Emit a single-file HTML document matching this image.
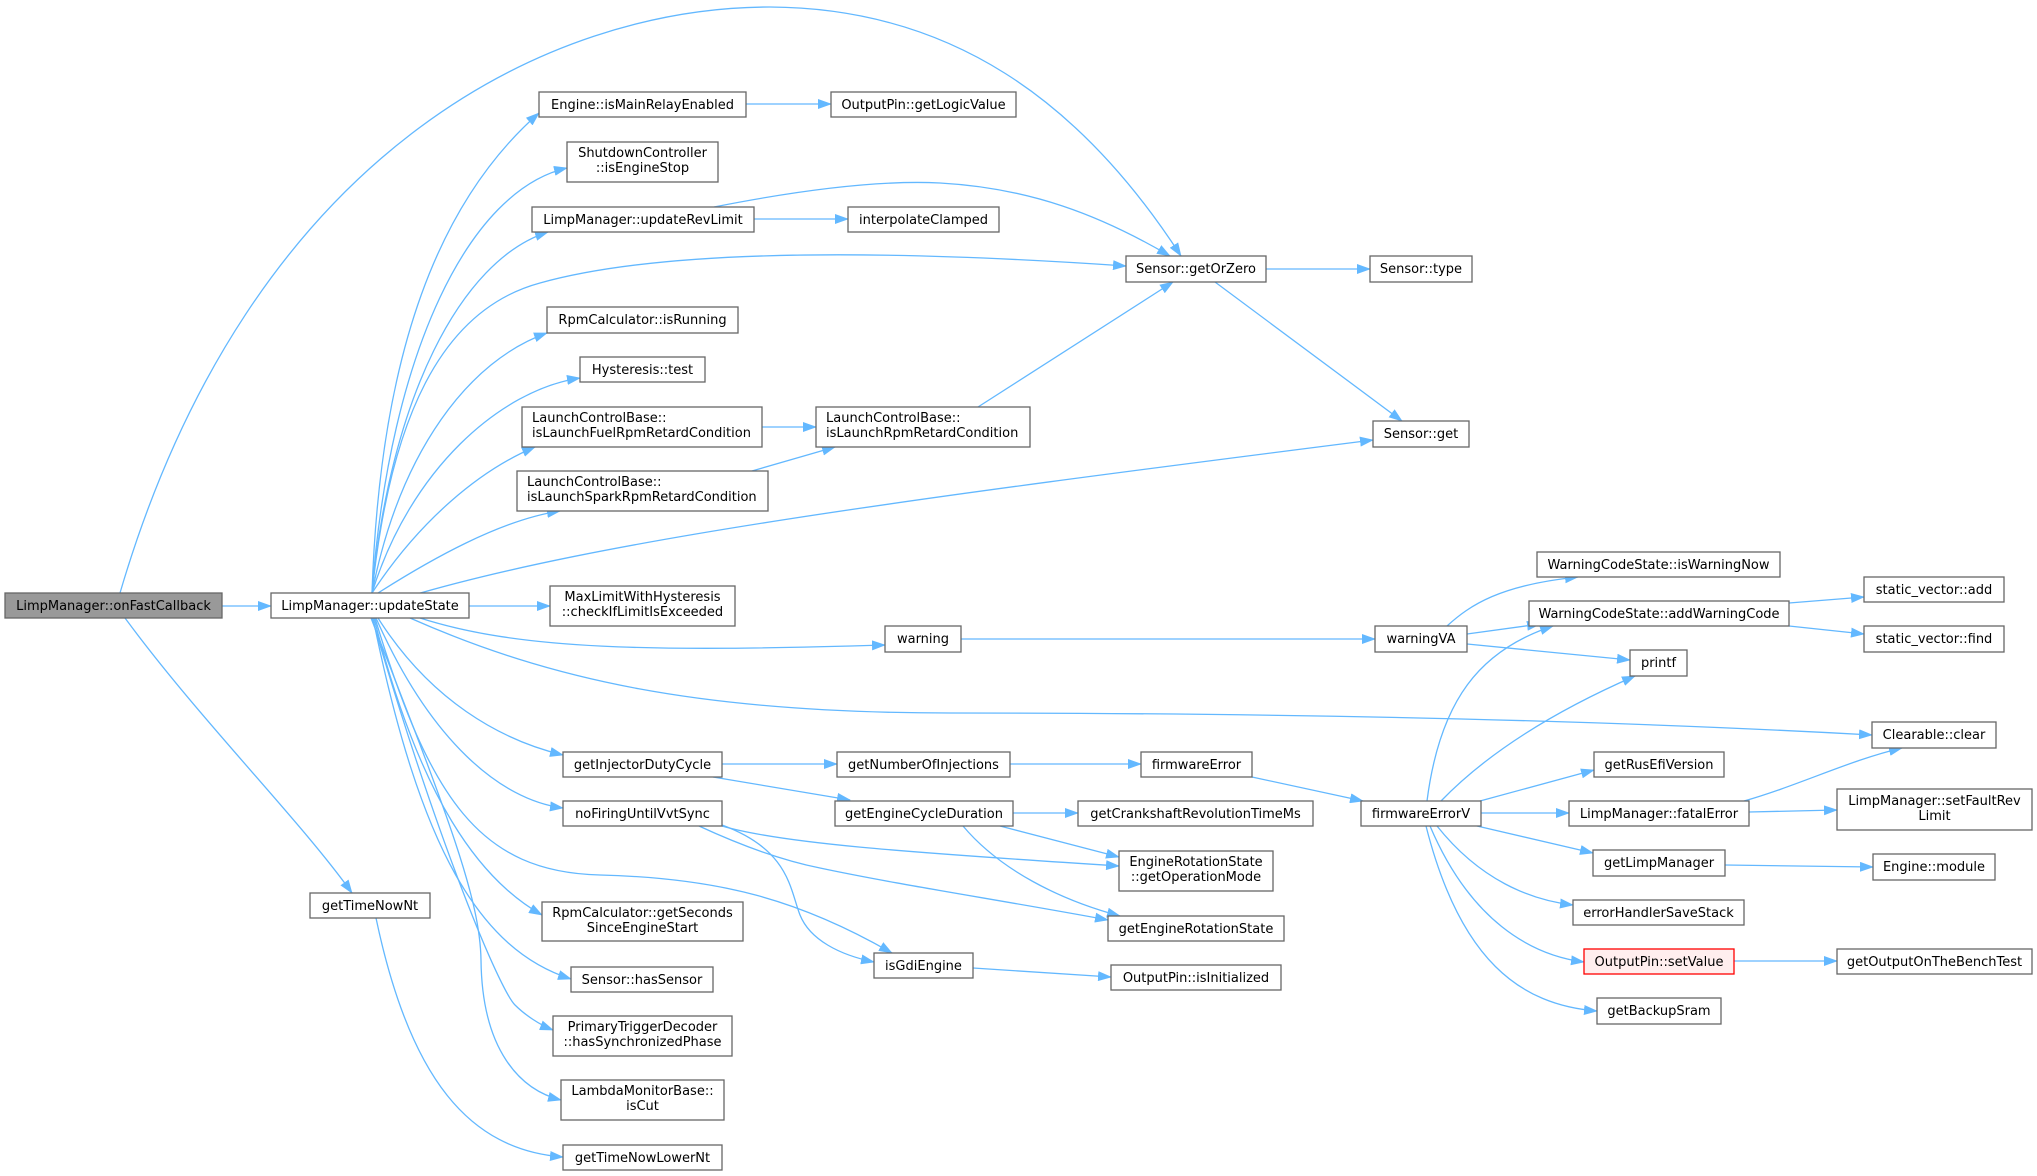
<!DOCTYPE html>
<html><head><meta charset="utf-8"><style>
html,body{margin:0;padding:0;background:#fff;}
svg{display:block;}
text{font-family:"DejaVu Sans","Liberation Sans",sans-serif;font-size:13px;fill:#000;}
.e{fill:none;stroke:#63b8ff;stroke-width:1.3;}
.n{fill:#fff;stroke:#666;stroke-width:1.3;}
</style></head><body>
<svg width="2037" height="1176" viewBox="0 0 2037 1176" xmlns="http://www.w3.org/2000/svg">
<defs><marker id="a" markerWidth="14" markerHeight="10" refX="13" refY="5" orient="auto" markerUnits="userSpaceOnUse"><path d="M0,0 L14,5 L0,10 z" fill="#63b8ff"/></marker></defs>
<g class="e" marker-end="url(#a)">
<path d="M222,606 L271,606"/>
<path d="M120,593 C250,150 550,7 770,7 C950,8 1080,100 1181,256"/>
<path d="M125,618 C200,720 300,820 352,893"/>
<path d="M376,918 C410,1080 470,1150 563,1157"/>
<path d="M372,593 C380,350 440,200 539,113"/>
<path d="M372,593 C390,350 470,190 567,168"/>
<path d="M372,593 C390,400 460,260 548,232"/>
<path d="M372,593 C390,420 440,310 540,283 C640,255 820,245 1126,266"/>
<path d="M372,593 C400,450 470,360 547,333"/>
<path d="M372,593 C410,470 500,390 580,378"/>
<path d="M372,593 C420,520 480,470 535,447"/>
<path d="M378,593 C430,560 500,520 560,511"/>
<path d="M410,596 C600,540 900,500 1373,440"/>
<path d="M469,606 L550,606"/>
<path d="M420,618 C520,650 650,652 885,645"/>
<path d="M410,618 C550,680 700,713 950,713 C1300,713 1600,720 1872,735"/>
<path d="M378,618 C430,700 500,740 563,755"/>
<path d="M376,618 C430,740 500,800 563,808"/>
<path d="M375,618 C430,800 480,872 600,875 C720,878 800,900 892,953"/>
<path d="M374,618 C420,800 480,880 542,915"/>
<path d="M373,618 C420,850 480,950 571,979"/>
<path d="M372,618 C440,850 500,990 515,1005 C525,1015 540,1025 553,1030"/>
<path d="M371,618 C450,820 480,900 481,960 C482,1050 520,1090 561,1100"/>
<path d="M746,104 L831,104"/>
<path d="M754,219 L848,219"/>
<path d="M714,207 C800,190 880,180 940,183 C1030,188 1100,215 1170,256"/>
<path d="M1266,269 L1370,269"/>
<path d="M1215,282 L1402,421"/>
<path d="M762,427 L816,427"/>
<path d="M752,471 L835,447"/>
<path d="M978,407 L1173,282"/>
<path d="M961,639 L1375,639"/>
<path d="M1447,626 C1470,605 1500,585 1578,577"/>
<path d="M1467,634 L1540,624"/>
<path d="M1467,644 L1630,660"/>
<path d="M1789,603 L1864,597"/>
<path d="M1789,626 L1864,634"/>
<path d="M722,764 L837,764"/>
<path d="M713,777 L850,800"/>
<path d="M1010,764 L1141,764"/>
<path d="M1252,777 L1363,801"/>
<path d="M1013,813 L1078,813"/>
<path d="M1000,826 L1119,857"/>
<path d="M963,826 C1000,870 1060,900 1120,916"/>
<path d="M722,826 C780,843 900,852 1119,866"/>
<path d="M699,826 C740,845 780,860 820,868 C900,885 1000,900 1108,920"/>
<path d="M722,825 C790,850 790,890 800,915 C810,940 840,955 874,962"/>
<path d="M973,968 L1111,977"/>
<path d="M1427,801 C1440,700 1480,650 1553,626"/>
<path d="M1441,801 C1500,740 1580,700 1635,676"/>
<path d="M1480,801 L1594,770"/>
<path d="M1481,813 L1569,813"/>
<path d="M1477,826 L1593,853"/>
<path d="M1437,826 C1480,880 1530,900 1573,905"/>
<path d="M1430,826 C1470,920 1530,955 1584,962"/>
<path d="M1426,826 C1460,960 1520,1005 1597,1011"/>
<path d="M1744,801 C1800,785 1850,760 1902,748"/>
<path d="M1749,812 L1837,810"/>
<path d="M1725,865 L1873,867"/>
<path d="M1734,961 L1837,961"/>
</g>
<g>
<rect x="5" y="593" width="217" height="25" fill="#999" stroke="#666" stroke-width="1.3"/><text x="113.5" y="610" text-anchor="middle">LimpManager::onFastCallback</text>
<rect class="n" x="271" y="593" width="198" height="25"/><text x="370" y="610" text-anchor="middle">LimpManager::updateState</text>
<rect class="n" x="539" y="92" width="207" height="25"/><text x="642.5" y="109" text-anchor="middle">Engine::isMainRelayEnabled</text>
<rect class="n" x="831" y="92" width="185" height="25"/><text x="923.5" y="109" text-anchor="middle">OutputPin::getLogicValue</text>
<rect class="n" x="567" y="142" width="151" height="40"/><text x="642.5" y="157" text-anchor="middle">ShutdownController</text><text x="642.5" y="172" text-anchor="middle">::isEngineStop</text>
<rect class="n" x="532" y="207" width="222" height="25"/><text x="643" y="224" text-anchor="middle">LimpManager::updateRevLimit</text>
<rect class="n" x="848" y="207" width="151" height="25"/><text x="923.5" y="224" text-anchor="middle">interpolateClamped</text>
<rect class="n" x="1126" y="256" width="140" height="26"/><text x="1196" y="273" text-anchor="middle">Sensor::getOrZero</text>
<rect class="n" x="1370" y="256" width="102" height="26"/><text x="1421" y="273" text-anchor="middle">Sensor::type</text>
<rect class="n" x="547" y="307" width="191" height="26"/><text x="642.5" y="324" text-anchor="middle">RpmCalculator::isRunning</text>
<rect class="n" x="580" y="357" width="125" height="25"/><text x="642.5" y="374" text-anchor="middle">Hysteresis::test</text>
<rect class="n" x="522" y="407" width="240" height="40"/><text x="532" y="422">LaunchControlBase::</text><text x="532" y="437">isLaunchFuelRpmRetardCondition</text>
<rect class="n" x="816" y="407" width="214" height="40"/><text x="826" y="422">LaunchControlBase::</text><text x="826" y="437">isLaunchRpmRetardCondition</text>
<rect class="n" x="1373" y="421" width="96" height="26"/><text x="1421" y="438" text-anchor="middle">Sensor::get</text>
<rect class="n" x="517" y="471" width="251" height="40"/><text x="527" y="486">LaunchControlBase::</text><text x="527" y="501">isLaunchSparkRpmRetardCondition</text>
<rect class="n" x="1537" y="552" width="243" height="25"/><text x="1658.5" y="569" text-anchor="middle">WarningCodeState::isWarningNow</text>
<rect class="n" x="1864" y="577" width="140" height="25"/><text x="1934" y="594" text-anchor="middle">static_vector::add</text>
<rect class="n" x="550" y="586" width="185" height="40"/><text x="642.5" y="601" text-anchor="middle">MaxLimitWithHysteresis</text><text x="642.5" y="616" text-anchor="middle">::checkIfLimitIsExceeded</text>
<rect class="n" x="1529" y="601" width="260" height="25"/><text x="1659" y="618" text-anchor="middle">WarningCodeState::addWarningCode</text>
<rect class="n" x="885" y="626" width="76" height="26"/><text x="923" y="643" text-anchor="middle">warning</text>
<rect class="n" x="1375" y="626" width="92" height="26"/><text x="1421" y="643" text-anchor="middle">warningVA</text>
<rect class="n" x="1864" y="626" width="140" height="26"/><text x="1934" y="643" text-anchor="middle">static_vector::find</text>
<rect class="n" x="1630" y="650" width="57" height="26"/><text x="1658.5" y="667" text-anchor="middle">printf</text>
<rect class="n" x="1872" y="722" width="124" height="26"/><text x="1934" y="739" text-anchor="middle">Clearable::clear</text>
<rect class="n" x="563" y="752" width="159" height="25"/><text x="642.5" y="769" text-anchor="middle">getInjectorDutyCycle</text>
<rect class="n" x="837" y="752" width="173" height="25"/><text x="923.5" y="769" text-anchor="middle">getNumberOfInjections</text>
<rect class="n" x="1141" y="752" width="111" height="25"/><text x="1196.5" y="769" text-anchor="middle">firmwareError</text>
<rect class="n" x="1594" y="752" width="130" height="25"/><text x="1659" y="769" text-anchor="middle">getRusEfiVersion</text>
<rect class="n" x="1837" y="789" width="195" height="41"/><text x="1934.5" y="805" text-anchor="middle">LimpManager::setFaultRev</text><text x="1934.5" y="820" text-anchor="middle">Limit</text>
<rect class="n" x="563" y="801" width="159" height="25"/><text x="642.5" y="818" text-anchor="middle">noFiringUntilVvtSync</text>
<rect class="n" x="835" y="801" width="178" height="25"/><text x="924" y="818" text-anchor="middle">getEngineCycleDuration</text>
<rect class="n" x="1078" y="801" width="235" height="25"/><text x="1195.5" y="818" text-anchor="middle">getCrankshaftRevolutionTimeMs</text>
<rect class="n" x="1361" y="801" width="120" height="25"/><text x="1421" y="818" text-anchor="middle">firmwareErrorV</text>
<rect class="n" x="1569" y="801" width="180" height="25"/><text x="1659" y="818" text-anchor="middle">LimpManager::fatalError</text>
<rect class="n" x="1119" y="851" width="154" height="40"/><text x="1196" y="866" text-anchor="middle">EngineRotationState</text><text x="1196" y="881" text-anchor="middle">::getOperationMode</text>
<rect class="n" x="1593" y="850" width="132" height="26"/><text x="1659" y="867" text-anchor="middle">getLimpManager</text>
<rect class="n" x="1873" y="854" width="122" height="26"/><text x="1934" y="871" text-anchor="middle">Engine::module</text>
<rect class="n" x="310" y="893" width="120" height="25"/><text x="370" y="910" text-anchor="middle">getTimeNowNt</text>
<rect class="n" x="1573" y="900" width="171" height="25"/><text x="1658.5" y="917" text-anchor="middle">errorHandlerSaveStack</text>
<rect class="n" x="542" y="902" width="201" height="39"/><text x="642.5" y="917" text-anchor="middle">RpmCalculator::getSeconds</text><text x="642.5" y="932" text-anchor="middle">SinceEngineStart</text>
<rect class="n" x="1108" y="916" width="176" height="25"/><text x="1196" y="933" text-anchor="middle">getEngineRotationState</text>
<rect x="1584" y="949" width="150" height="25" fill="#fee" stroke="#f00" stroke-width="1.3"/><text x="1659" y="966" text-anchor="middle">OutputPin::setValue</text>
<rect class="n" x="1837" y="949" width="195" height="25"/><text x="1934.5" y="966" text-anchor="middle">getOutputOnTheBenchTest</text>
<rect class="n" x="874" y="953" width="99" height="25"/><text x="923.5" y="970" text-anchor="middle">isGdiEngine</text>
<rect class="n" x="1111" y="965" width="170" height="25"/><text x="1196" y="982" text-anchor="middle">OutputPin::isInitialized</text>
<rect class="n" x="571" y="967" width="142" height="25"/><text x="642" y="984" text-anchor="middle">Sensor::hasSensor</text>
<rect class="n" x="1597" y="998" width="124" height="26"/><text x="1659" y="1015" text-anchor="middle">getBackupSram</text>
<rect class="n" x="553" y="1016" width="179" height="40"/><text x="642.5" y="1031" text-anchor="middle">PrimaryTriggerDecoder</text><text x="642.5" y="1046" text-anchor="middle">::hasSynchronizedPhase</text>
<rect class="n" x="561" y="1080" width="163" height="40"/><text x="642.5" y="1095" text-anchor="middle">LambdaMonitorBase::</text><text x="642.5" y="1110" text-anchor="middle">isCut</text>
<rect class="n" x="563" y="1145" width="159" height="25"/><text x="642.5" y="1162" text-anchor="middle">getTimeNowLowerNt</text>
</g>
</svg>
</body></html>
